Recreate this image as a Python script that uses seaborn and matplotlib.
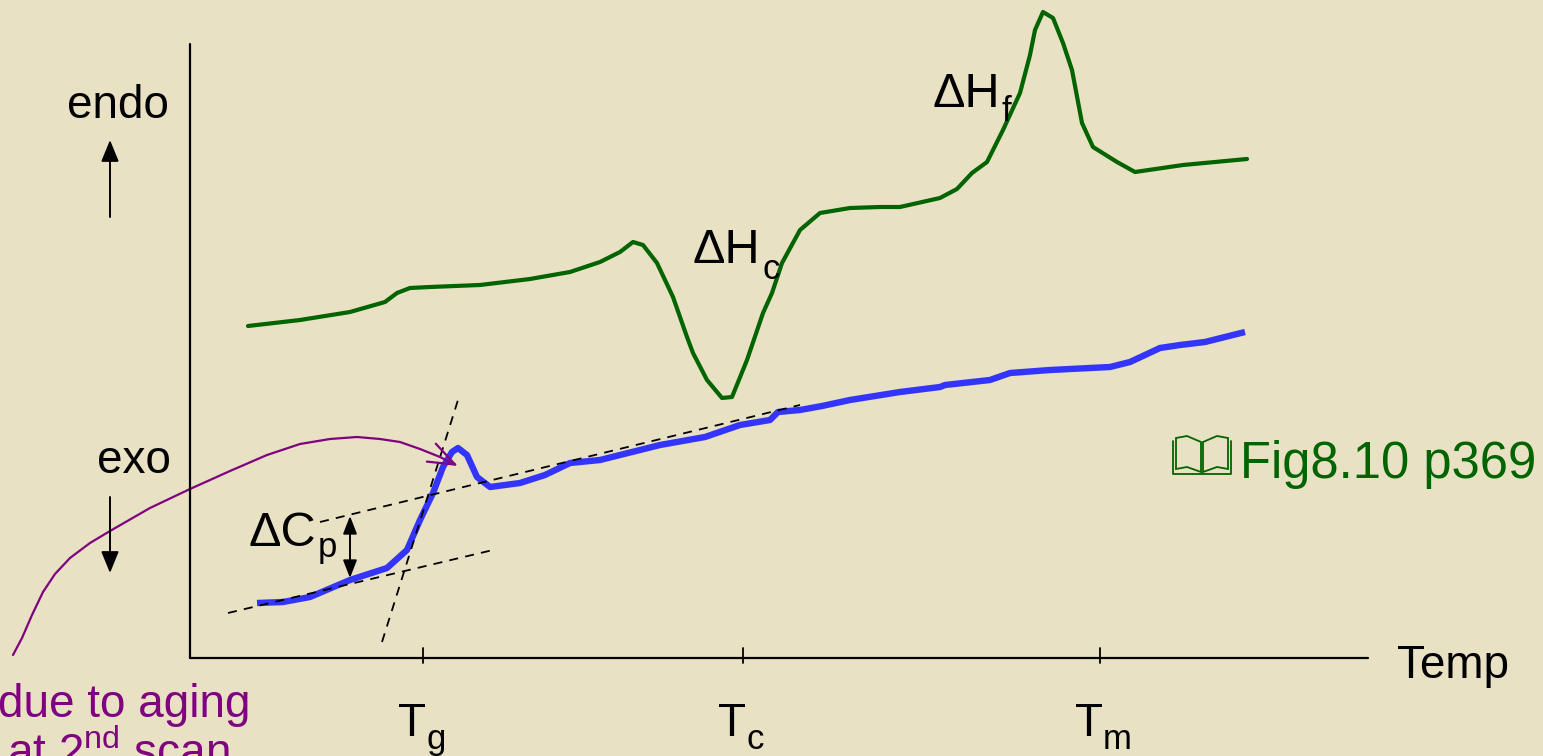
import matplotlib
matplotlib.use("Agg")
import matplotlib.pyplot as plt
import seaborn as sns
import pandas as pd
from matplotlib.patches import Polygon

# ---------------- data (pixel-like units) ----------------
# first-scan style curve (green)
green_x = [248, 300, 350, 385, 397, 410, 430, 480, 530, 570, 600, 620, 633, 643, 657,
           673, 687, 693, 707, 722, 732, 747, 763, 772, 782, 800, 820, 850, 880, 900,
           940, 957, 972, 987, 1003, 1020, 1030, 1035, 1043, 1053, 1063, 1072, 1082,
           1093, 1117, 1135, 1183, 1247]
green_y = [326, 320, 312, 302, 293, 288, 287, 285, 279, 272, 262, 252, 242, 245, 263,
           297, 337, 353, 380, 398, 397, 360, 313, 293, 263, 230, 213, 208, 207, 207,
           198, 189, 173, 162, 130, 93, 55, 30, 12, 18, 43, 70, 123, 147, 162, 172,
           165, 159]

# glass-transition curve (blue)
blue_x = [257, 283, 310, 350, 387, 407, 420, 433, 443, 452, 458, 467, 477, 490, 520,
          545, 570, 600, 620, 660, 705, 740, 770, 778, 800, 822, 850, 900, 940, 945,
          990, 1010, 1050, 1110, 1130, 1160, 1180, 1205, 1245]
blue_y = [603, 602, 597, 580, 568, 550, 520, 493, 467, 452, 448, 455, 477, 487, 483,
          475, 463, 460, 455, 445, 437, 425, 420, 412, 410, 406, 400, 392, 387, 385,
          380, 373, 370, 367, 362, 348, 345, 342, 332]

# aging-peak pointer (purple)
purple_x = [13, 22, 32, 43, 55, 70, 90, 110, 150, 190, 230, 267, 300, 330, 357, 380,
            400, 420, 440, 458]
purple_y = [655, 638, 615, 592, 574, 558, 543, 531, 508, 489, 471, 455, 444, 439, 437,
            439, 442, 449, 457, 466]

# dashed construction lines: (x0, y0, x1, y1)
dash_lower = [228, 613, 493, 550]
dash_upper = [320, 522, 800, 405]
dash_tangent = [382, 642, 458, 400]

# axes frame
axis_origin = (190, 658)
axis_top = 44
axis_right = 1368
tick_x = [423, 743, 1100]
tick_subs = ["g", "c", "m"]

# ---------------- styling ----------------
sns.set_theme(style="white")
plt.rcParams["font.family"] = ["Liberation Sans", "DejaVu Sans"]
plt.rcParams["mathtext.fontset"] = "custom"
plt.rcParams["mathtext.rm"] = "Liberation Sans"
plt.rcParams["mathtext.it"] = "Liberation Sans:italic"
plt.rcParams["mathtext.bf"] = "Liberation Sans:bold"

BG = "#E8E1C3"
GREEN = "#006400"
BLUE = "#3434FF"
PURPLE = "#800080"
FS = 33
SUB = 25

fig = plt.figure(figsize=(15.43, 7.56), dpi=100, facecolor=BG)
ax = fig.add_axes([0, 0, 1, 1])
ax.set_facecolor(BG)
ax.set_xlim(0, 1543)
ax.set_ylim(756, 0)
ax.axis("off")

# curves
sns.lineplot(data=pd.DataFrame({"x": green_x, "y": green_y}), x="x", y="y",
             sort=False, estimator=None, color=GREEN, lw=3.0, ax=ax,
             solid_joinstyle="round")
sns.lineplot(data=pd.DataFrame({"x": blue_x, "y": blue_y}), x="x", y="y",
             sort=False, estimator=None, color=BLUE, lw=4.6, ax=ax,
             solid_capstyle="butt", solid_joinstyle="round")

# dashed lines
for d in (dash_lower, dash_upper, dash_tangent):
    ax.plot([d[0], d[2]], [d[1], d[3]], color="black", lw=1.3,
            ls=(0, (5, 4)), zorder=3)

# purple pointer
sns.lineplot(data=pd.DataFrame({"x": purple_x[:-1], "y": purple_y[:-1]}), x="x", y="y",
             sort=False, estimator=None, color=PURPLE, lw=1.6, ax=ax,
             solid_joinstyle="round")
ax.annotate("", xy=(purple_x[-1], purple_y[-1]), xytext=(purple_x[-2], purple_y[-2]),
            arrowprops=dict(arrowstyle="->,head_length=1.6,head_width=0.6",
                            color=PURPLE, lw=1.6, shrinkA=0, shrinkB=0), zorder=5)

# frame
ox, oy = axis_origin
ax.plot([ox, ox], [axis_top, oy], color="black", lw=1.6)
ax.plot([ox, axis_right], [oy, oy], color="black", lw=1.6)
for tx, sub in zip(tick_x, tick_subs):
    ax.plot([tx, tx], [oy - 10, oy + 5], color="black", lw=1.3)
    ax.text(tx - 25, 736, "T", fontsize=FS, color="black", ha="left", va="baseline")
    ax.text(tx + 3, 749, sub, fontsize=SUB, color="black", ha="left", va="baseline")
ax.text(1397, 678, "Temp", fontsize=FS, color="black", ha="left", va="baseline")

# endo / exo
ax.text(67, 118, "endo", fontsize=FS, color="black", ha="left", va="baseline")
ax.text(97, 473, "exo", fontsize=FS, color="black", ha="left", va="baseline")
ax.annotate("", xy=(110, 140), xytext=(110, 217),
            arrowprops=dict(arrowstyle="-|>,head_length=1.1,head_width=0.45",
                            color="black", lw=1.4, shrinkA=0, shrinkB=0))
ax.annotate("", xy=(110, 573), xytext=(110, 497),
            arrowprops=dict(arrowstyle="-|>,head_length=1.1,head_width=0.45",
                            color="black", lw=1.4, shrinkA=0, shrinkB=0))

# delta labels (main symbol + lowered subscript)
ax.text(692, 263, "ΔH", fontsize=35, color="black", ha="left", va="baseline")
ax.text(762, 279, "c", fontsize=SUB, color="black", ha="left", va="baseline")
ax.text(932, 107, "ΔH", fontsize=35, color="black", ha="left", va="baseline")
ax.text(1002, 121, "f", fontsize=SUB, color="black", ha="left", va="baseline")
ax.text(249, 546, "ΔC", fontsize=35, color="black", ha="left", va="baseline")
ax.text(318, 557, "p", fontsize=SUB, color="black", ha="left", va="baseline")
ax.annotate("", xy=(350, 516), xytext=(350, 578),
            arrowprops=dict(arrowstyle="<|-|>,head_length=0.9,head_width=0.35",
                            color="black", lw=1.4, shrinkA=0, shrinkB=0))

# purple note (partly outside the frame as in the original slide)
ax.text(250, 717, "due to aging", fontsize=FS, color=PURPLE, ha="right", va="baseline")
ax.text(230, 767, "at 2$^\\mathrm{nd}$ scan", fontsize=FS, color=PURPLE,
        ha="right", va="baseline")

# reference note with book icon
ax.text(1240, 478, "Fig8.10 p369", fontsize=36.5, color=GREEN, ha="left", va="baseline")
left_page = Polygon([[1176, 438], [1187, 436], [1201, 442], [1201, 472],
                     [1187, 467], [1176, 469]], closed=True, fill=False,
                    edgecolor=GREEN, lw=1.3)
right_page = Polygon([[1228, 438], [1217, 436], [1203, 442], [1203, 472],
                      [1217, 467], [1228, 469]], closed=True, fill=False,
                     edgecolor=GREEN, lw=1.3)
ax.add_patch(left_page)
ax.add_patch(right_page)
ax.plot([1173, 1173, 1231, 1231], [441, 474, 474, 441], color=GREEN, lw=1.3)

fig.savefig("out.png", dpi=100, facecolor=BG)
